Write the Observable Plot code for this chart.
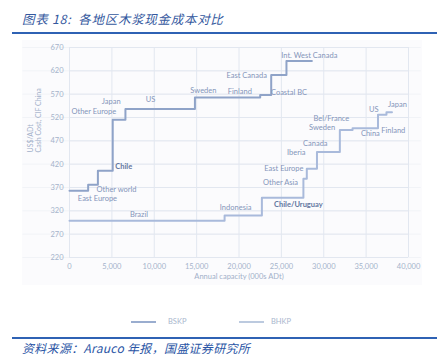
<!DOCTYPE html>
<html>
<head>
<meta charset="utf-8">
<script src="https://cdn.jsdelivr.net/npm/d3@7"></script>
<script src="https://cdn.jsdelivr.net/npm/@observablehq/plot@0.6"></script>
<style>
  html, body { margin: 0; padding: 0; background: #fff; }
  #page { position: relative; width: 440px; height: 356px; overflow: hidden; background: #fff; }
  #title { position: absolute; left: 22px; top: 9px; font-family: "Noto Sans CJK SC", sans-serif; font-style: italic; font-size: 12.5px; color: #34589e; white-space: nowrap; letter-spacing: 0.7px; }
  .rule { position: absolute; left: 12px; width: 425px; height: 2px; background: #2f62b4; }
  #panel { position: absolute; left: 22px; top: 40px; width: 400px; height: 245px; background: #fbfbfd; }
  #chart { position: absolute; left: 0; top: 36px; }
  #footer { position: absolute; left: 22px; top: 339px; font-family: "Noto Sans CJK SC", sans-serif; font-style: italic; font-size: 12px; color: #2a55a5; white-space: nowrap; letter-spacing: 0.3px; }
  .leg-line { position: absolute; height: 2px; width: 25px; top: 321px; }
  .leg-text { position: absolute; top: 317px; font-family: Lato, sans-serif; font-size: 7.5px; color: #a9b6cd; }
</style>
</head>
<body>
<div id="page">
  <div id="title">图表 18:&nbsp; 各地区木浆现金成本对比</div>
  <div class="rule" style="top:32px"></div>
  <div id="panel"></div>
  <div id="chart"></div>
  <div class="leg-line" style="left:131px;background:#9aadcf"></div>
  <div class="leg-text" style="left:168px">BSKP</div>
  <div class="leg-line" style="left:239px;background:#bccadf"></div>
  <div class="leg-text" style="left:271px">BHKP</div>
  <div class="rule" style="top:337px"></div>
  <div id="footer">资料来源：Arauco 年报，国盛证券研究所</div>
</div>
<script>
// Tick values
const xTicks = [0, 5000, 10000, 15000, 20000, 25000, 30000, 35000, 40000];
const yTicks = [220, 270, 320, 370, 420, 470, 520, 570, 620, 670];

// BSKP cost curve (cumulative capacity, 000s ADt -> US$/ADt)
const bskpCapacity = [0, 2200, 3350, 5100, 6600, 14800, 22500, 23800, 25600, 28600];
const bskpCost = [363, 376, 406, 515, 538, 563, 568, 611, 641, 641];

// BHKP cost curve
const bhkpCapacity = [0, 18300, 22700, 27600, 28000, 29200, 31900, 33400, 36400, 37400, 38050];
const bhkpCost = [299, 310, 348, 389, 410, 446, 493, 497, 526, 531, 531];

// Region labels
const bskpLabels = ["East Europe", "Other world", "Chile", "Other Europe", "Japan", "US", "Sweden", "Finland", "East Canada", "Coastal BC", "Int. West Canada"];
const bskpLabelX = [3300, 5550, 6400, 2870, 4930, 9550, 15800, 20100, 20900, 25900, 28300];
const bskpLabelY = [346, 365, 414, 532, 554, 558, 578, 576, 610, 574, 653];

const bhkpLabels = ["Brazil", "Indonesia", "Chile/Uruguay", "Other Asia", "East Europe", "Iberia", "Canada", "Sweden", "Bel/France", "US", "Japan", "China", "Finland"];
const bhkpLabelX = [8200, 19600, 27000, 24900, 25300, 26750, 29000, 29800, 30900, 35900, 38700, 35500, 38200];
const bhkpLabelY = [312, 326, 333, 381, 410, 444, 464, 499, 517, 538, 547, 485, 492];

const boldLabels = ["Chile", "Chile/Uruguay"];

const bskp = bskpCapacity.map((c, i) => ({capacity: c, cost: bskpCost[i]}));
const bhkp = bhkpCapacity.map((c, i) => ({capacity: c, cost: bhkpCost[i]}));
const labels = [
  ...bskpLabels.map((t, i) => ({text: t, x: bskpLabelX[i], y: bskpLabelY[i]})),
  ...bhkpLabels.map((t, i) => ({text: t, x: bhkpLabelX[i], y: bhkpLabelY[i]}))
];

const chart = Plot.plot({
  width: 440,
  height: 264,
  marginLeft: 69,
  marginRight: 32,
  marginTop: 11,
  marginBottom: 43,
  style: {fontFamily: "Lato, sans-serif", fontSize: "7.5px", color: "#a5b3cb", background: "transparent", overflow: "visible"},
  x: {domain: [0, 40000]},
  y: {domain: [220, 670]},
  marks: [
    Plot.ruleY(yTicks, {x1: -5500, x2: 41500, stroke: "#f1f3f7", strokeWidth: 1}),
    Plot.ruleY(yTicks, {stroke: "#e2e7f0", strokeWidth: 1}),
    Plot.ruleX(xTicks, {stroke: "#e2e7f0", strokeWidth: 1}),
    Plot.axisX(xTicks, {tickSize: 0, tickPadding: 6, tickFormat: d3.format(","), label: null, fill: "#a5b3cb"}),
    Plot.axisY(yTicks, {tickSize: 0, tickPadding: 6, label: null, fill: "#a5b3cb"}),
    Plot.text(["Annual capacity (000s ADt)"], {frameAnchor: "bottom", dy: 21, fill: "#a2b0c9", fontSize: 7.5}),
    Plot.text(["US$/ADt\nCash Cost, CIF China"], {frameAnchor: "left", dx: -35, rotate: -90, lineHeight: 1.2, fill: "#a2b0c9", fontSize: 7}),
    Plot.line(bhkp, {x: "capacity", y: "cost", curve: "step-after", stroke: "#a9badb", strokeWidth: 2}),
    Plot.line(bskp, {x: "capacity", y: "cost", curve: "step-after", stroke: "#8fa3c8", strokeWidth: 2}),
    Plot.text(labels.filter(d => !boldLabels.includes(d.text)), {x: "x", y: "y", text: "text", fill: "#8495ba", fontSize: 7.5}),
    Plot.text(labels.filter(d => boldLabels.includes(d.text)), {x: "x", y: "y", text: "text", fill: "#63779f", fontSize: 7.5, fontWeight: "bold"})
  ]
});
document.getElementById("chart").appendChild(chart);
</script>
</body>
</html>
